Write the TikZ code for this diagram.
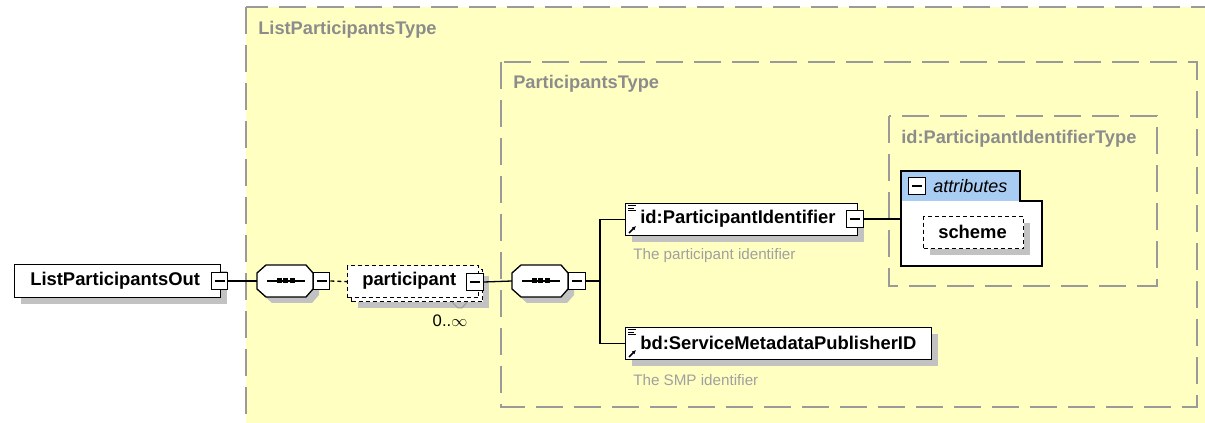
\documentclass[tikz,border=0pt]{standalone}
\usepackage{fontspec}
\setmainfont{Liberation Sans}
\usetikzlibrary{shadows,arrows.meta}
\newdimen\px \px=0.75pt
\definecolor{boxyellow}{HTML}{FFFFC2}
\definecolor{boxborder}{HTML}{9A9A9A}
\definecolor{labelgray}{HTML}{8C8C8C}
\definecolor{shadowgray}{HTML}{C2C2C2}
\definecolor{attrblue}{HTML}{A8CCF2}
\definecolor{descgray}{HTML}{A0A0A0}
\begin{document}
\begin{tikzpicture}[x=\px,y=-\px,
  typebox/.style={draw=boxborder, line width=1.6\px, dash pattern=on 27\px off 11\px, fill=boxyellow},
  typelabel/.style={text=labelgray, font=\fontsize{13.7}{16}\selectfont\bfseries, anchor=west, inner sep=0},
  shd/.style={general shadow={fill=shadowgray, shadow xshift=6\px, shadow yshift=-6\px}},
  elembox/.style={draw=black, line width=1.3\px, fill=white, inner sep=0, anchor=north west},
  elemtext/.style={font=\fontsize{13.8}{16}\selectfont\bfseries, anchor=west, inner sep=0},
  desc/.style={text=descgray, font=\fontsize{11.4}{14}\selectfont, anchor=west, inner sep=0},
  minusbox/.style={draw=black, line width=1.1\px, fill=white, minimum size=16.5\px, inner sep=0,
     path picture={\draw[line width=1.5\px] ([xshift=-5\px]path picture bounding box.center) -- ([xshift=5\px]path picture bounding box.center);}},
  compframe/.style={rectangle, minimum width=56\px, minimum height=32\px, inner sep=0, anchor=west},
  octo/.style={draw=black, line width=1.3\px, fill=white},
  octoshadow/.style={fill=shadowgray},
  conn/.style={draw=black, line width=1.3\px},
  dotsq/.style={fill=black, minimum size=5\px, inner sep=0},
  optdash/.style={dash pattern=on 4\px off 3\px},
  refarrow/.style={line width=1.5\px, -{Latex[length=3pt,width=3pt]}},
]
\useasboundingbox (0,0) rectangle (1205,423);
\clip (0,0) rectangle (1205,423);

% type containers
\path[typebox] (246,7) rectangle (1230,440);
\node[typelabel] (lptlabel) at (258,30) {ListParticipantsType};
\path[typebox] (501,62) rectangle (1197,407);
\node[typelabel] (ptlabel) at (513,84) {ParticipantsType};
\path[typebox] (889,116) rectangle (1157,286);
\node[typelabel] (piltlabel) at (901,139) {id:ParticipantIdentifierType};

% root element
\node[elembox, shd, minimum width=206\px, minimum height=33\px] (lpo) at (14,264) {};
\node[elemtext] (lpotext) at (30,281) {ListParticipantsOut};
\node[minusbox] (lpom) at (219.5,281) {};

% first sequence compositor (octagon 257..313 x 265..297)
\node[compframe] (c1) at (257,281) {};
\path[octoshadow] (263,279) -- (272,271) -- (312,271) -- (319,279) -- (319,295) -- (312,303) -- (272,303) -- (263,295) -- cycle;
\path[octo] (257,273) -- (266,265) -- (306,265) -- (313,273) -- (313,289) -- (306,297) -- (266,297) -- (257,289) -- cycle;
\draw[line width=1.3\px] (267,281) -- (305,281);
\node[dotsq] (c1d1) at (279,281) {};
\node[dotsq] (c1d2) at (285.5,281) {};
\node[dotsq] (c1d3) at (292,281) {};
\node[minusbox] (c1m) at (321.5,281) {};

% participant (0..inf)
\node[elembox, shd, optdash, minimum width=131\px, minimum height=32\px] (pback) at (351,269) {};
\node[elembox, optdash, minimum width=131\px, minimum height=32\px] (part) at (347,265) {};
\node[elemtext] (parttext) at (362,281) {participant};
\node[minusbox] (partm) at (475,282) {};
\node[font=\fontsize{12.5}{14}\selectfont, inner sep=0] (occ) at (450,321) {0..$\infty$};
\draw[boxborder, line width=1\px] (452,302) -- (458,308) -- (462,308) -- (467,302);

% second sequence compositor (octagon 512..568)
\node[compframe] (c2) at (512,281) {};
\path[octoshadow] (518,279) -- (527,271) -- (567,271) -- (574,279) -- (574,295) -- (567,303) -- (527,303) -- (518,295) -- cycle;
\path[octo] (512,273) -- (521,265) -- (561,265) -- (568,273) -- (568,289) -- (561,297) -- (521,297) -- (512,289) -- cycle;
\draw[line width=1.3\px] (522,281) -- (560,281);
\node[dotsq] (c2d1) at (534,281) {};
\node[dotsq] (c2d2) at (540.5,281) {};
\node[dotsq] (c2d3) at (547,281) {};
\node[minusbox] (c2m) at (577,281) {};

% id:ParticipantIdentifier
\node[elembox, shd, minimum width=232\px, minimum height=32\px] (idel) at (625,203) {};
\draw[line width=1\px] (628,206) -- (636,206) (628,208.5) -- (634,208.5) (628,211) -- (636,211);
\draw[refarrow] (629,233) -- (636,226);
\node[elemtext] (idtext) at (640,219) {id:ParticipantIdentifier};
\node[minusbox] (idm) at (855,219) {};
\node[desc] (iddesc) at (633,256) {The participant identifier};

% bd:ServiceMetadataPublisherID
\node[elembox, shd, minimum width=306\px, minimum height=32\px] (bdel) at (625,327) {};
\draw[line width=1\px] (628,330) -- (636,330) (628,332.5) -- (634,332.5) (628,335) -- (636,335);
\draw[refarrow] (629,357) -- (636,350);
\node[elemtext] (bdtext) at (640,343) {bd:ServiceMetadataPublisherID};
\node[desc] (bddesc) at (633,380) {The SMP identifier};

% attributes group
\fill[attrblue] (901,171) rectangle (1020,201);
\fill[white] (901,201) rectangle (1042,266);
\draw[black, line width=1.5\px] (901,171) -- (1020,171) -- (1020,201) -- (1042,201) -- (1042,266) -- (901,266) -- cycle;
\coordinate (attrin) at (901,219);
\node[minusbox] (attrm) at (917,186) {};
\node[font=\fontsize{13.5}{16}\selectfont\itshape, anchor=west, inner sep=0] (attrtext) at (933,186) {attributes};
\node[elembox, shd, optdash, minimum width=100\px, minimum height=32\px] (scheme) at (923,216) {};
\node[elemtext] (schemetext) at (938,232) {scheme};

% connectors
\coordinate (fork) at (600,281);
\draw[conn] (lpom.east) -- (c1.west);
\draw[conn, optdash] (c1m.east) -- (part.west);
\draw[conn] (partm.east) -- (c2.west);
\draw[conn] (c2m.east) -- (fork);
\draw[conn] (idel.west) -- (idel.west -| fork) -- (bdel.west -| fork) -- (bdel.west);
\draw[conn] (idm.east) -- (attrin);
\end{tikzpicture}
\end{document}
